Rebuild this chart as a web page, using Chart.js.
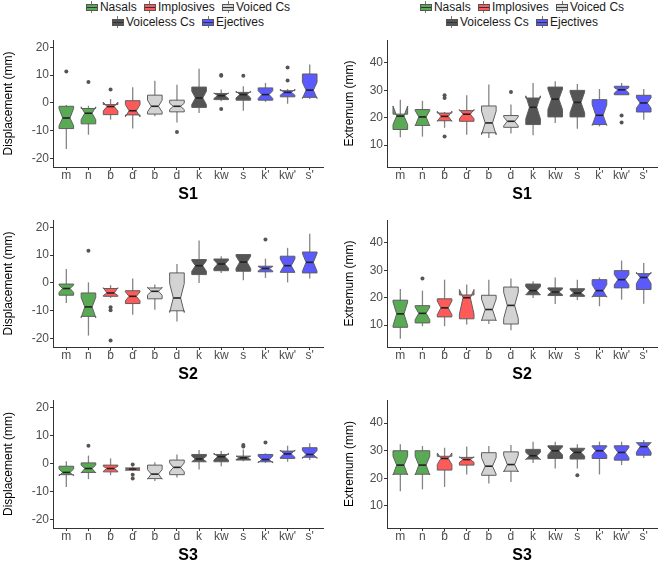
<!DOCTYPE html>
<html>
<head>
<meta charset="utf-8">
<script src="https://cdn.jsdelivr.net/npm/chart.js@4"></script>
<style>
body { margin: 0; width: 664px; height: 564px; overflow: hidden; background: #fff; position: relative;
       font-family: "Liberation Sans", Arial, sans-serif; }
canvas.panel { position: absolute; }
.legend { position: absolute; top: 0; width: 270px; text-align: center; font-size: 12px; line-height: 15px; color: #1a1a1a; }
.item { display: inline-block; margin: 0 2px; white-space: nowrap; }
.key { position: relative; display: inline-block; width: 12px; height: 12px; vertical-align: -2px; margin-right: 2px; }
.key::before { content: ''; position: absolute; left: 5.5px; top: 0; width: 1px; height: 12px; background: #777; }
.key::after { content: ''; position: absolute; left: 0; top: 2.5px; width: 10px; height: 5px; border: 1px solid #555;
              background: linear-gradient(to bottom, var(--c) 40%, #333 40%, #333 60%, var(--c) 60%); }
</style>
</head>
<body>
<div class="legend" id="legL" style="left:53px"></div>
<div class="legend" id="legR" style="left:387px"></div>

<canvas class="panel" id="dispS1" width="332" height="174" style="left:0;top:30px"></canvas>
<canvas class="panel" id="extS1" width="332" height="174" style="left:332px;top:30px"></canvas>
<canvas class="panel" id="dispS2" width="332" height="174" style="left:0;top:210px"></canvas>
<canvas class="panel" id="extS2" width="332" height="174" style="left:332px;top:210px"></canvas>
<canvas class="panel" id="dispS3" width="332" height="175" style="left:0;top:390px"></canvas>
<canvas class="panel" id="extS3" width="332" height="175" style="left:332px;top:390px"></canvas>

<script>
// Categories and groups
const categories = ['m', 'n', 'ɓ', 'ɗ', 'b', 'd', 'k', 'kw', 's', "k'", "kw'", "s'"];
const categoryGroup = [0, 0, 1, 1, 2, 2, 3, 3, 3, 4, 4, 4];
const groupNames = ['Nasals', 'Implosives', 'Voiced Cs', 'Voiceless Cs', 'Ejectives'];
const groupColors = ['#5aaa55', '#ff5a5a', '#d3d3d3', '#555555', '#5a5aff'];

const dispTicks = [-20, -10, 0, 10, 20];
const extTicks = [10, 20, 30, 40];

// Box rows: [whiskerLow, q1, notchLow, median, notchHigh, q3, whiskerHigh]
const dispS1 = [
    [-16.5, -9.2, -8.2, -5.4, -2.0, -1.2, -0.7],
    [-11.4, -7.5, -6.0, -3.7, -1.4, -2.0, -1.0],
    [-6.0, -4.2, -2.9, -1.3, 0.3, -0.6, 1.4],
    [-9.2, -4.3, -5.0, -2.8, -0.6, 0.8, 5.6],
    [-4.8, -4.0, -3.2, -1.2, 1.0, 2.8, 8.0],
    [-7.0, -3.2, -2.4, -1.2, -0.1, 1.0, 6.5],
    [-3.6, -1.6, -0.6, 1.8, 4.2, 5.7, 12.3],
    [0.6, 1.2, 1.6, 2.6, 3.6, 3.4, 4.8],
    [-2.8, 1.0, 1.8, 3.0, 4.2, 3.8, 6.0],
    [0.4, 1.0, 1.6, 3.0, 4.4, 5.4, 7.2],
    [-0.3, 2.2, 2.8, 3.8, 4.9, 4.4, 5.0],
    [1.4, 2.0, 1.6, 4.6, 7.4, 10.4, 13.8]
];
const dispS1Out = [[0, 11.3], [1, 7.5], [2, 4.8], [5, -10.4], [7, 10.0], [7, 9.8], [7, -2.2], [8, 9.8], [10, 12.7], [10, 8.1]];

const extS1 = [
    [12.9, 15.7, 17.5, 20.6, 24.3, 21.3, 26.6],
    [13.1, 17.2, 17.0, 20.3, 22.6, 23.0, 26.2],
    [16.3, 18.9, 18.7, 20.5, 22.4, 21.7, 22.1],
    [13.8, 18.7, 19.6, 21.3, 23.0, 22.6, 28.2],
    [12.6, 14.5, 13.8, 18.1, 22.4, 24.3, 32.1],
    [14.2, 16.5, 17.0, 18.7, 20.3, 20.8, 24.8],
    [13.6, 17.5, 19.6, 23.8, 28.0, 27.2, 32.7],
    [18.1, 20.3, 23.0, 26.8, 30.5, 31.2, 33.3],
    [16.0, 20.3, 21.8, 25.6, 29.4, 30.0, 32.3],
    [16.8, 17.5, 17.2, 20.9, 24.8, 26.6, 30.5],
    [28.4, 28.4, 29.0, 30.2, 31.0, 31.5, 32.7],
    [19.3, 22.1, 23.5, 25.4, 27.3, 28.2, 30.5]
];
const extS1Out = [[2, 28.2], [2, 27.2], [2, 13.1], [5, 29.4], [10, 20.8], [10, 18.3]];

const dispS2 = [
    [-7.2, -4.4, -3.4, -2.0, -0.8, -0.4, 5.0],
    [-18.9, -12.0, -12.5, -8.6, -5.2, -3.6, 0.2],
    [-5.4, -4.8, -4.5, -3.6, -1.7, -2.0, -0.8],
    [-11.4, -7.4, -6.4, -4.8, -3.2, -2.8, 1.6],
    [-9.6, -5.7, -4.4, -3.0, -1.6, -1.8, -0.6],
    [-13.8, -10.0, -10.6, -5.4, -0.2, 3.6, 6.8],
    [0.0, 3.0, 4.2, 6.2, 8.0, 8.4, 15.2],
    [3.6, 4.4, 5.3, 6.8, 8.2, 8.6, 9.6],
    [1.0, 4.2, 5.2, 7.5, 9.6, 10.2, 10.4],
    [1.8, 4.0, 4.3, 5.2, 5.9, 6.0, 8.7],
    [0.2, 3.8, 3.9, 6.2, 8.6, 9.6, 12.6],
    [1.6, 3.6, 4.2, 7.4, 10.6, 11.1, 17.7]
];
const dispS2Out = [[1, 11.6], [2, -8.7], [2, -9.8], [2, -20.7], [9, 15.6]];

const extS2 = [
    [5.0, 9.2, 9.8, 14.1, 18.4, 19.1, 23.2],
    [9.6, 10.8, 12.0, 14.3, 16.6, 17.1, 22.6],
    [9.6, 13.0, 13.8, 16.3, 18.8, 19.6, 26.6],
    [10.2, 12.3, 14.0, 20.0, 23.0, 21.0, 24.8],
    [10.4, 11.8, 11.6, 15.7, 19.5, 20.9, 26.6],
    [8.1, 10.4, 12.4, 17.2, 22.0, 23.9, 27.0],
    [19.9, 21.1, 21.0, 22.6, 24.0, 25.0, 26.0],
    [17.7, 20.8, 21.1, 22.1, 23.2, 23.6, 27.4],
    [19.2, 20.5, 20.8, 21.7, 23.0, 23.3, 26.6],
    [16.9, 20.5, 20.2, 22.6, 24.8, 26.6, 27.4],
    [19.3, 23.6, 24.7, 26.6, 28.5, 29.9, 33.6],
    [17.8, 23.0, 25.2, 27.4, 29.3, 28.8, 32.7]
];
const extS2Out = [[1, 27.0]];

const dispS3 = [
    [-8.4, -4.0, -4.4, -3.2, -2.0, -1.0, 0.8],
    [-5.6, -3.2, -3.4, -1.8, -0.6, 0.2, 2.8],
    [-4.2, -3.0, -2.8, -1.8, -1.0, -0.6, 1.8],
    [-2.6, -2.4, -2.3, -2.0, -1.7, -1.6, -1.2],
    [-6.3, -5.4, -5.6, -3.8, -2.2, -0.6, 0.4],
    [-5.0, -4.0, -3.0, -1.4, 0.2, 1.2, 3.2],
    [-2.2, 0.6, 0.6, 1.6, 2.6, 3.2, 4.8],
    [-1.0, 0.6, 1.2, 2.4, 3.6, 3.2, 4.4],
    [0.8, 1.2, 1.4, 2.0, 2.6, 2.6, 5.0],
    [0.2, 0.6, 0.2, 1.4, 2.6, 3.2, 3.6],
    [0.6, 1.8, 2.2, 3.4, 4.8, 4.4, 6.3],
    [1.2, 2.2, 1.8, 3.2, 4.6, 5.6, 7.2]
];
const dispS3Out = [[1, 6.3], [3, -0.4], [3, -4.0], [3, -5.4], [8, 6.6], [8, 6.0], [9, 7.5]];

const extS3 = [
    [15.3, 21.5, 21.2, 24.8, 28.0, 30.0, 32.4],
    [16.0, 21.5, 21.2, 24.8, 28.0, 30.0, 31.7],
    [16.9, 23.0, 25.0, 27.2, 29.2, 28.0, 31.1],
    [21.4, 24.8, 25.8, 26.8, 27.8, 27.6, 31.5],
    [18.1, 21.1, 21.5, 24.4, 27.5, 29.3, 31.7],
    [18.7, 22.6, 22.3, 25.0, 28.4, 29.6, 32.1],
    [25.6, 27.0, 26.8, 28.2, 29.4, 30.5, 33.3],
    [23.6, 27.2, 28.5, 30.0, 31.4, 31.8, 33.3],
    [23.6, 27.0, 28.1, 29.4, 30.6, 30.9, 32.4],
    [21.4, 27.2, 28.4, 30.0, 31.5, 31.8, 33.3],
    [24.8, 26.6, 27.5, 29.4, 31.2, 31.8, 33.3],
    [27.4, 28.4, 29.5, 31.5, 33.0, 32.9, 33.9]
];
const extS3Out = [[8, 21.1]];

// Legend (HTML)
function buildLegend(el) {
    const rows = [[0, 1, 2], [3, 4]];
    el.innerHTML = rows.map(r => '<div>' + r.map(g =>
        '<span class="item"><span class="key" style="--c:' + groupColors[g] + '"></span>' + groupNames[g] + '</span>'
    ).join(' ') + '</div>').join('');
}
buildLegend(document.getElementById('legL'));
buildLegend(document.getElementById('legR'));

// Plugin drawing notched boxes with the chart's scales
function notchBoxPlugin(rows) {
    return {
        id: 'notchBox',
        beforeDatasetsDraw(chart) {
            const ctx = chart.ctx;
            const x = chart.scales.x;
            const y = chart.scales.y;
            const step = x.getPixelForValue(1) - x.getPixelForValue(0);
            const half = step * 0.33;
            ctx.save();
            rows.forEach((r, i) => {
                const [wLo, q1, nLo, med, nHi, q3, wHi] = r;
                const cx = x.getPixelForValue(i);
                const L = cx - half, R = cx + half;
                const iL = cx - half / 2, iR = cx + half / 2;

                // whisker
                ctx.strokeStyle = '#858585';
                ctx.lineWidth = 1.3;
                ctx.beginPath();
                ctx.moveTo(cx, y.getPixelForValue(wLo));
                ctx.lineTo(cx, y.getPixelForValue(wHi));
                ctx.stroke();

                // notched box
                ctx.beginPath();
                ctx.moveTo(L, y.getPixelForValue(q1));
                ctx.lineTo(L, y.getPixelForValue(nLo));
                ctx.lineTo(iL, y.getPixelForValue(med));
                ctx.lineTo(L, y.getPixelForValue(nHi));
                ctx.lineTo(L, y.getPixelForValue(q3));
                ctx.lineTo(R, y.getPixelForValue(q3));
                ctx.lineTo(R, y.getPixelForValue(nHi));
                ctx.lineTo(iR, y.getPixelForValue(med));
                ctx.lineTo(R, y.getPixelForValue(nLo));
                ctx.lineTo(R, y.getPixelForValue(q1));
                ctx.closePath();
                ctx.fillStyle = groupColors[categoryGroup[i]];
                ctx.fill();
                ctx.strokeStyle = '#5e5e5e';
                ctx.lineWidth = 1;
                ctx.stroke();

                // median
                ctx.strokeStyle = '#222';
                ctx.lineWidth = 1.6;
                ctx.beginPath();
                ctx.moveTo(iL, y.getPixelForValue(med));
                ctx.lineTo(iR, y.getPixelForValue(med));
                ctx.stroke();
            });
            ctx.restore();
        }
    };
}

function makePanel(id, rows, outliers, yTitle, panelTitle, yMin, yMax, yTicks, left) {
    const rightPad = left ? 9 : 7;
    // title padding chosen so the axis is 53 / 55 px wide
    const titlePad = left ? { top: 1, bottom: 15.3 } : { top: 10, bottom: 12.3 };
    new Chart(document.getElementById(id), {
        type: 'scatter',
        data: {
            datasets: [{
                data: outliers.map(p => ({ x: p[0], y: p[1] })),
                pointRadius: 2,
                pointHoverRadius: 2,
                backgroundColor: '#555',
                borderWidth: 0
            }]
        },
        options: {
            responsive: false,
            devicePixelRatio: 1,
            animation: false,
            events: [],
            layout: { padding: { top: 10, right: rightPad, left: 0, bottom: 0 } },
            plugins: { legend: { display: false }, tooltip: { enabled: false } },
            scales: {
                x: {
                    type: 'linear',
                    min: -0.6,
                    max: categories.length - 0.4,
                    afterBuildTicks: s => { s.ticks = categories.map((c, i) => ({ value: i })); },
                    ticks: {
                        autoSkip: false,
                        maxRotation: 0,
                        padding: -2,
                        color: '#4d4d4d',
                        font: { size: 12, family: '"Liberation Sans", Arial, sans-serif' },
                        callback: v => categories[Math.round(v)]
                    },
                    grid: { drawOnChartArea: false, drawTicks: true, tickLength: 3, color: '#333' },
                    border: { display: true, color: '#333', width: 1 },
                    title: {
                        display: true,
                        text: panelTitle,
                        color: '#000',
                        padding: { top: 4.4, bottom: 0 },
                        font: { size: 16, weight: 'bold', family: '"Liberation Sans", Arial, sans-serif' }
                    }
                },
                y: {
                    min: yMin,
                    max: yMax,
                    afterBuildTicks: s => { s.ticks = yTicks.map(v => ({ value: v })); },
                    ticks: {
                        padding: 1,
                        color: '#4d4d4d',
                        font: { size: 12, family: '"Liberation Sans", Arial, sans-serif' }
                    },
                    grid: { drawOnChartArea: false, drawTicks: true, tickLength: 3, color: '#333' },
                    border: { display: true, color: '#333', width: 1 },
                    title: {
                        display: true,
                        text: yTitle,
                        color: '#000',
                        padding: titlePad,
                        font: { size: 12, family: '"Liberation Sans", Arial, sans-serif' }
                    }
                }
            }
        },
        plugins: [notchBoxPlugin(rows)]
    });
}

makePanel('dispS1', dispS1, dispS1Out, 'Displacement (mm)', 'S1', -23, 22.6, dispTicks, true);
makePanel('extS1', extS1, extS1Out, 'Extremum (mm)', 'S1', 2, 48.4, extTicks, false);
makePanel('dispS2', dispS2, dispS2Out, 'Displacement (mm)', 'S2', -23, 22.6, dispTicks, true);
makePanel('extS2', extS2, extS2Out, 'Extremum (mm)', 'S2', 2, 48.4, extTicks, false);
makePanel('dispS3', dispS3, dispS3Out, 'Displacement (mm)', 'S3', -23, 22.6, dispTicks, true);
makePanel('extS3', extS3, extS3Out, 'Extremum (mm)', 'S3', 2, 48.4, extTicks, false);
</script>
</body>
</html>
